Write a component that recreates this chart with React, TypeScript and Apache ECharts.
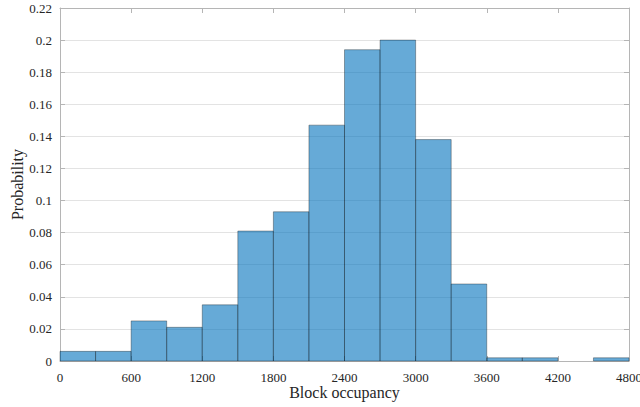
import React, { useEffect, useRef } from "react";
import * as echarts from "echarts";

const binStarts = [0, 300, 600, 900, 1200, 1500, 1800, 2100, 2400, 2700, 3000, 3300, 3600, 3900, 4200, 4500];
const binWidth = 300;
const probabilities = [0.006, 0.006, 0.025, 0.021, 0.035, 0.081, 0.093, 0.147, 0.194, 0.2, 0.138, 0.048, 0.002, 0.002, 0, 0.002];
const xTitle = "Block occupancy";
const yTitle = "Probability";

export default function App() {
  const ref = useRef<HTMLDivElement>(null);
  useEffect(() => {
    const chart = echarts.init(ref.current!, null, { renderer: "svg" });
    const font = "'Liberation Serif', 'Times New Roman', serif";
    const axisColor = "#b5b5b5";
    const labelColor = "#262626";
    const data = binStarts.map((s, i) => [s, s + binWidth, probabilities[i]]);
    chart.setOption({
      animation: false,
      grid: { left: 60, right: 11, top: 8, bottom: 46, containLabel: false, outerBoundsMode: "none" },
      xAxis: [
        {
          type: "value",
          min: 0,
          max: 4800,
          interval: 600,
          name: xTitle,
          nameLocation: "middle",
          nameGap: 23,
          nameMoveOverlap: false,
          nameTextStyle: { fontFamily: font, fontSize: 16, color: labelColor, verticalAlign: "top" },
          axisLine: { show: true, onZero: false, lineStyle: { color: axisColor } },
          axisTick: { show: true, inside: true, length: 5, lineStyle: { color: axisColor } },
          axisLabel: {
            fontFamily: font,
            fontSize: 13,
            color: labelColor,
            margin: 10,
            formatter: (v: number) => String(v),
          },
          splitLine: { show: false },
        },
        {
          type: "value",
          position: "top",
          min: 0,
          max: 4800,
          interval: 600,
          axisLine: { show: true, onZero: false, lineStyle: { color: axisColor } },
          axisTick: { show: true, inside: true, length: 5, lineStyle: { color: axisColor } },
          axisLabel: { show: false },
          splitLine: { show: false },
        },
      ],
      yAxis: [
        {
          type: "value",
          min: 0,
          max: 0.22,
          interval: 0.02,
          name: yTitle,
          nameLocation: "middle",
          nameGap: 43,
          nameMoveOverlap: false,
          nameTextStyle: { fontFamily: font, fontSize: 16, color: labelColor, verticalAlign: "middle" },
          axisLine: { show: true, onZero: false, lineStyle: { color: axisColor } },
          axisTick: { show: true, inside: true, length: 5, lineStyle: { color: axisColor } },
          axisLabel: {
            fontFamily: font,
            fontSize: 13,
            color: labelColor,
            margin: 8,
            formatter: (v: number) => String(parseFloat(v.toFixed(4))),
          },
          splitLine: { show: true, lineStyle: { color: "#e3e3e3", width: 1 } },
        },
        {
          type: "value",
          position: "right",
          min: 0,
          max: 0.22,
          interval: 0.02,
          axisLine: { show: true, onZero: false, lineStyle: { color: axisColor } },
          axisTick: { show: true, inside: true, length: 5, lineStyle: { color: axisColor } },
          axisLabel: { show: false },
          splitLine: { show: false },
        },
      ],
      series: [
        {
          type: "custom",
          xAxisIndex: 0,
          yAxisIndex: 0,
          data,
          encode: { x: [0, 1], y: 2 },
          renderItem: (params: any, api: any) => {
            const x0 = api.value(0);
            const x1 = api.value(1);
            const v = api.value(2);
            if (!v) return null;
            const p0 = api.coord([x0, v]);
            const p1 = api.coord([x1, 0]);
            return {
              type: "rect",
              shape: { x: p0[0], y: p0[1], width: p1[0] - p0[0], height: p1[1] - p0[1] },
              style: { fill: "rgba(0,114,189,0.6)", stroke: "rgba(0,0,0,0.32)", lineWidth: 1 },
            };
          },
        },
      ],
    });
    return () => chart.dispose();
  }, []);
  return <div ref={ref} style={{ width: 640, height: 407, position: "absolute", left: 0, top: 0 }} />;
}
